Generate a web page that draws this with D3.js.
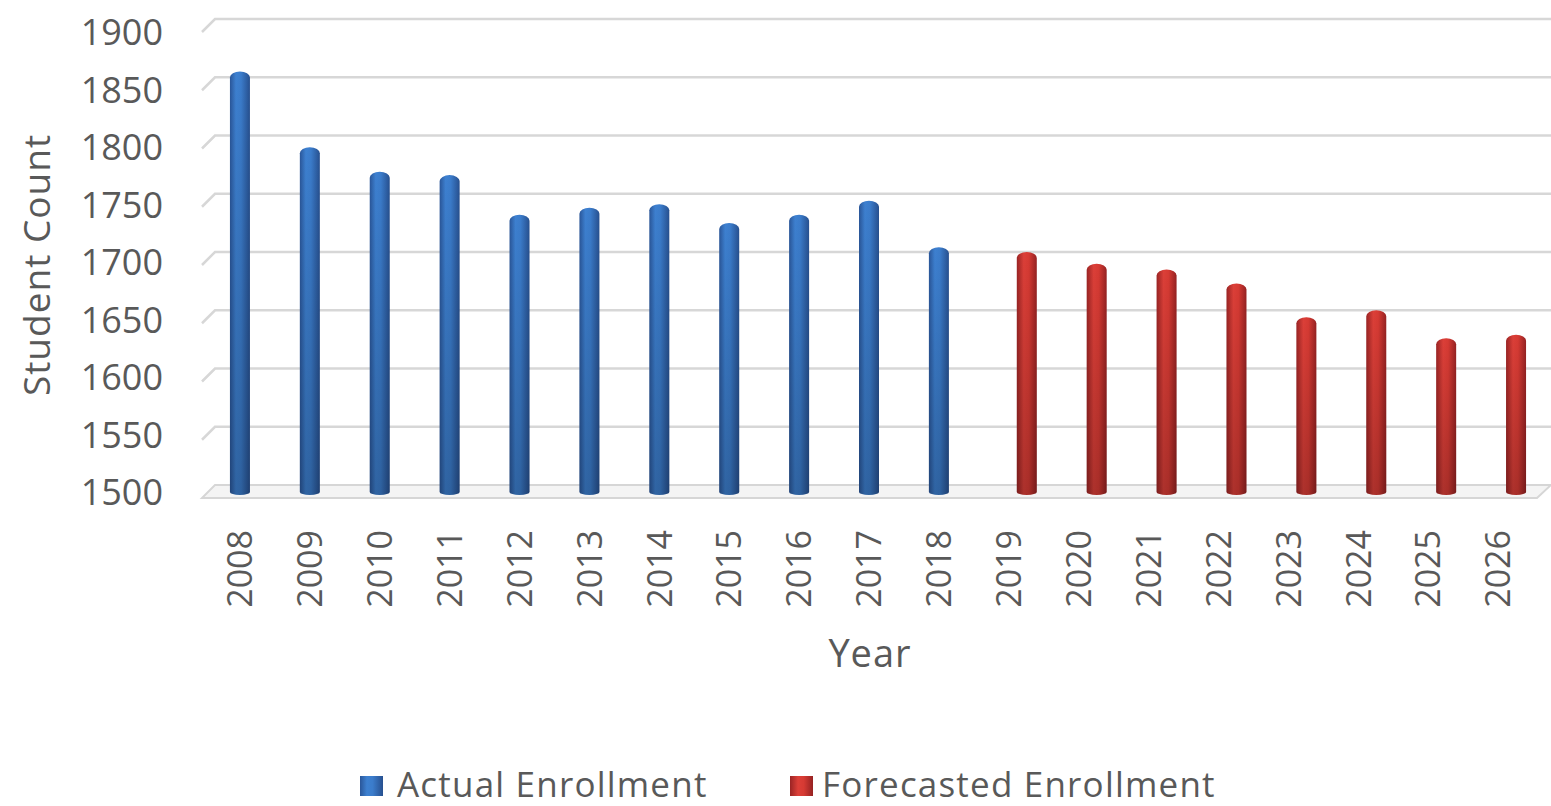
<!DOCTYPE html>
<html>
<head>
<meta charset="utf-8">
<script src="https://cdn.jsdelivr.net/npm/d3@7/dist/d3.min.js"></script>
<style>
  html, body { margin: 0; padding: 0; background: #ffffff; }
  svg { display: block; }
  text { font-family: "Open Sans", "Liberation Sans", sans-serif; fill: #595959; }
</style>
</head>
<body>
<svg id="chart" width="1551" height="806"></svg>
<script>
// ---- data ----
const years = ["2008","2009","2010","2011","2012","2013","2014","2015","2016","2017","2018",
               "2019","2020","2021","2022","2023","2024","2025","2026"];
const actualEnrollment = [1861, 1796, 1775, 1772, 1738, 1744, 1747, 1731, 1738, 1750, 1710,
                          null, null, null, null, null, null, null, null];
const forecastedEnrollment = [null, null, null, null, null, null, null, null, null, null, null,
                              1706, 1696, 1691, 1679, 1650, 1656, 1632, 1635];
const seriesNames = ["Actual Enrollment", "Forecasted Enrollment"];
const yTicks = [1500, 1550, 1600, 1650, 1700, 1750, 1800, 1850, 1900];
const yTitle = "Student Count";
const xTitle = "Year";

// ---- layout ----
const svg = d3.select("#chart");
const backLeft = 215, backRight = 1551;
const depthY = 13, depthX = 13;   // perspective offset from back wall to front edge
const midY = 7;                   // bars stand mid-depth

const x = d3.scaleBand().domain(years).range([214, 1542]).padding(0);
const xs = d3.scaleBand().domain(seriesNames).range([-18, 18]);
const yBack = d3.scaleLinear().domain([1500, 1900]).range([485, 19]);
const yFront = v => yBack(v) + depthY;
const yMid = v => yBack(v) + midY;

// ---- gradients ----
const defs = svg.append("defs");
function cylGrad(id, stops) {
  const g = defs.append("linearGradient").attr("id", id)
    .attr("x1", "0%").attr("x2", "100%").attr("y1", "0%").attr("y2", "0%");
  stops.forEach(s => g.append("stop").attr("offset", s[0]).attr("stop-color", s[1]));
}
cylGrad("gBlue", [["0%", "#2a5699"], ["30%", "#3d80d0"], ["55%", "#3b7ccb"], ["100%", "#27508f"]]);
cylGrad("gRed",  [["0%", "#9a2424"], ["35%", "#dc3f38"], ["60%", "#d63a33"], ["100%", "#952222"]]);
const shade = defs.append("linearGradient").attr("id", "gShade")
  .attr("x1", "0%").attr("x2", "0%").attr("y1", "0%").attr("y2", "100%");
shade.append("stop").attr("offset", "0%").attr("stop-color", "#000").attr("stop-opacity", 0);
shade.append("stop").attr("offset", "100%").attr("stop-color", "#000").attr("stop-opacity", 0.22);

// ---- floor ----
const floorBack = yBack(1500), floorFront = yFront(1500);
svg.append("path")
  .attr("d", `M${backLeft},${floorBack} L${backRight},${floorBack} L${backRight - 14},${floorFront} L${backLeft - depthX},${floorFront} Z`)
  .attr("fill", "#f4f4f4").attr("stroke", "#d6d6d6").attr("stroke-width", 2);

// ---- gridlines (back wall with left slant) ----
svg.append("g").selectAll("path").data(yTicks.filter(t => t > 1500)).join("path")
  .attr("d", t => `M${backLeft - depthX},${yFront(t)} L${backLeft},${yBack(t)} L${backRight},${yBack(t)}`)
  .attr("fill", "none").attr("stroke", "#d7d7d7").attr("stroke-width", 2.5);

// ---- bars ----
const barW = 20, ry = 6;
function barPath(cx, top, bottom) {
  const l = cx - barW / 2, r = cx + barW / 2;
  return `M${l},${bottom} L${l},${top + ry} A${barW / 2},${ry} 0 0 1 ${r},${top + ry} L${r},${bottom} A${barW / 2},3 0 0 1 ${l},${bottom} Z`;
}
const seriesData = [
  { name: seriesNames[0], values: actualEnrollment, fill: "url(#gBlue)" },
  { name: seriesNames[1], values: forecastedEnrollment, fill: "url(#gRed)" }
];
seriesData.forEach(s => {
  const pts = years.map((yr, i) => ({ yr, v: s.values[i] })).filter(d => d.v != null);
  const g = svg.append("g");
  const cx = d => x(d.yr) + x.bandwidth() / 2 + xs(s.name) + xs.bandwidth() / 2;
  g.selectAll("path.bar").data(pts).join("path").attr("class", "bar")
    .attr("d", d => barPath(cx(d), yMid(d.v), yMid(1500)))
    .attr("fill", s.fill);
  g.selectAll("path.shade").data(pts).join("path").attr("class", "shade")
    .attr("d", d => barPath(cx(d), yMid(d.v), yMid(1500)))
    .attr("fill", "url(#gShade)");
});

// ---- y axis (labels sit on the front edge) ----
const yAxis = d3.axisLeft(d3.scaleLinear().domain([1500, 1900]).range([493, 33]))
  .tickValues(yTicks).tickFormat(d3.format("d")).tickSize(0).tickPadding(0);
const gy = svg.append("g").attr("transform", "translate(163,0)").call(yAxis);
gy.select(".domain").remove();
gy.selectAll("text").attr("font-size", 36).attr("fill", "#595959")
  .attr("font-family", "'Open Sans', sans-serif");

// ---- x axis ----
const xAxis = d3.axisBottom(x).tickSize(0).tickPadding(0);
const gx = svg.append("g").attr("transform", `translate(-9,530)`).call(xAxis);
gx.select(".domain").remove();
gx.selectAll("text")
  .attr("font-size", 34).attr("fill", "#595959")
  .attr("font-family", "'Open Sans', sans-serif")
  .attr("text-anchor", "end").attr("dy", "0.36em")
  .attr("transform", "rotate(-90)")
  .attr("x", 0).attr("y", 0);

// ---- axis titles ----
svg.append("text").attr("x", 870).attr("y", 667).attr("text-anchor", "middle")
  .attr("font-size", 38).attr("letter-spacing", 1).text(xTitle);
svg.append("text").attr("transform", "translate(50,265) rotate(-90)").attr("text-anchor", "middle")
  .attr("font-size", 37).attr("letter-spacing", 1).text(yTitle);

// ---- legend ----
const legendItems = [
  { name: seriesNames[0], fill: "url(#gBlue)", mx: 360, tx: 397 },
  { name: seriesNames[1], fill: "url(#gRed)", mx: 790, tx: 822 }
];
const lg = svg.append("g");
legendItems.forEach(d => {
  lg.append("rect").attr("x", d.mx).attr("y", 776).attr("width", 23).attr("height", 20).attr("fill", d.fill);
  lg.append("text").attr("x", d.tx).attr("y", 797).attr("font-size", 35)
    .attr("letter-spacing", 1.2).text(d.name);
});
</script>
</body>
</html>
